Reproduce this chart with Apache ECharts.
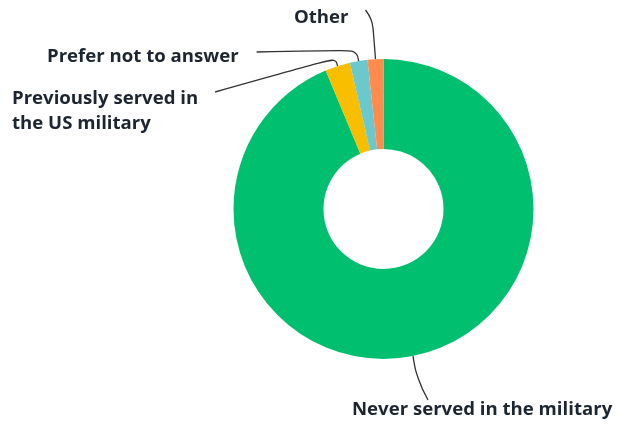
<!DOCTYPE html>
<html>
<head>
<meta charset="utf-8">
<script src="https://cdn.jsdelivr.net/npm/echarts@6/dist/echarts.min.js"></script>
<style>
  html, body { margin: 0; padding: 0; background: #ffffff; }
  #chart { width: 617px; height: 425px; }
</style>
</head>
<body>
<div id="chart"></div>
<script>
// Military service breakdown (percent of respondents)
const categories = [
  'Never served in the military',
  'Previously served in\nthe US military',
  'Prefer not to answer',
  'Other'
];
const shares = [93.7, 2.7, 1.9, 1.7];
const colors = ['#00BF6F', '#F9BE00', '#6BC8CD', '#FF8B4F'];

// Label anchor (left edge, vertical middle) for each slice
const labelSpots = [
  { x: 352, y: 410 },
  { x: 12, y: 111 },
  { x: 47, y: 57 },
  { x: 294, y: 18 }
];
// Leader-line shape: bend offset from the slice edge, end offset from the label
const leaderBend = [[4, 24], [-2, -8], [-2, -11], [-3, -40]];
const leaderEnd = [
  { fromRight: false, dx: 76, dy: -10 },
  { fromRight: true, dx: 17, dy: -19 },
  { fromRight: true, dx: 18, dy: -5 },
  { fromRight: true, dx: 17, dy: -8 }
];

const chart = echarts.init(document.getElementById('chart'), null, { renderer: 'canvas' });

chart.setOption({
  animation: false,
  backgroundColor: '#ffffff',
  series: [{
    type: 'pie',
    center: [383.5, 209],
    radius: [60, 150],
    startAngle: 90,
    clockwise: true,
    silent: true,
    data: categories.map((name, i) => ({
      name: name,
      value: shares[i],
      itemStyle: { color: colors[i] }
    })),
    label: {
      show: true,
      position: 'outside',
      alignTo: 'none',
      overflow: 'none',
      formatter: '{b}',
      color: '#1c2530',
      fontFamily: 'Open Sans',
      fontWeight: 'bold',
      fontSize: 18.6,
      lineHeight: 25
    },
    labelLine: {
      show: true,
      smooth: 0.45,
      length: 15,
      length2: 20,
      lineStyle: { color: '#333333', width: 1.3 }
    },
    labelLayout: function (params) {
      const i = params.dataIndex;
      const spot = labelSpots[i];
      const start = params.labelLinePoints[0];
      const bend = [start[0] + leaderBend[i][0], start[1] + leaderBend[i][1]];
      const e = leaderEnd[i];
      const endX = e.fromRight ? spot.x + params.labelRect.width + e.dx : spot.x + e.dx;
      const end = [endX, spot.y + e.dy];
      return {
        x: spot.x,
        y: spot.y,
        align: 'left',
        verticalAlign: 'middle',
        moveOverlap: null,
        labelLinePoints: [start, bend, end]
      };
    }
  }]
});
</script>
</body>
</html>
